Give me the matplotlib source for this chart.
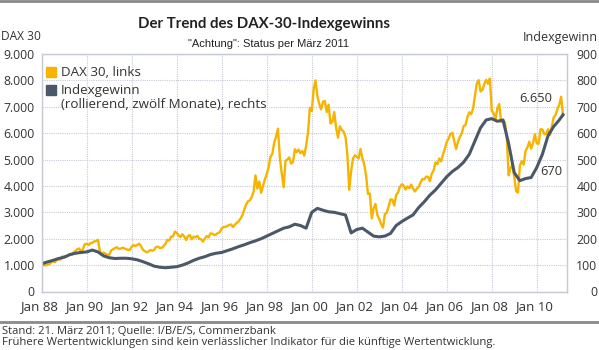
import numpy as np
import matplotlib
matplotlib.use("Agg")
import matplotlib.pyplot as plt
from matplotlib.lines import Line2D
from matplotlib.patches import Rectangle
from matplotlib.transforms import ScaledTranslation

# DAX 30 monthly, Jan 1988 .. Mar 2011 (left axis)
dax = [
    950, 1010, 985, 1020, 1030, 1100, 1150, 1110, 1190, 1220, 1210, 1330,
    1310, 1330, 1350, 1400, 1390, 1480, 1540, 1600, 1630, 1480, 1620, 1790,
    1810, 1760, 1830, 1840, 1900, 1910, 1960, 1540, 1390, 1480, 1430, 1400,
    1390, 1550, 1600, 1640, 1680, 1620, 1620, 1660, 1640, 1600, 1580, 1580,
    1700, 1760, 1720, 1770, 1810, 1710, 1580, 1530, 1480, 1520, 1570, 1545,
    1580, 1690, 1700, 1650, 1650, 1720, 1800, 1960, 1930, 2080, 2080, 2270,
    2220, 2130, 2060, 2170, 2090, 1950, 2100, 2140, 1980, 2080, 2050, 2110,
    2000, 1980, 1890, 2010, 2100, 2050, 2200, 2190, 2140, 2160, 2220, 2250,
    2400, 2440, 2450, 2480, 2520, 2540, 2440, 2530, 2600, 2660, 2760, 2890,
    3090, 3300, 3420, 3450, 3580, 3790, 4400, 3900, 4170, 3740, 4000, 4250,
    4440, 4710, 5100, 5220, 5650, 5880, 6170, 5060, 4480, 3950, 4950, 5000,
    5080, 4850, 4900, 5390, 5280, 5380, 5240, 5320, 5150, 5520, 6020, 6960,
    6840, 7640, 8000, 7410, 7110, 6900, 7190, 7220, 6800, 7080, 6370, 6430,
    6800, 6210, 5830, 6260, 6120, 6060, 5860, 5190, 3850, 4560, 5040, 5160,
    5110, 5040, 5400, 5040, 4820, 4380, 3700, 3710, 2770, 3150, 3320, 2890,
    2750, 2550, 2420, 2940, 2980, 3220, 3490, 3480, 3260, 3660, 3750, 3960,
    4060, 4020, 3860, 3980, 3920, 4050, 3900, 3790, 3890, 3960, 4130, 4260,
    4250, 4350, 4350, 4180, 4460, 4590, 4890, 4830, 5040, 4930, 5190, 5410,
    5670, 5800, 5970, 6010, 5690, 5400, 5680, 5860, 6000, 6270, 6310, 6600,
    6790, 6720, 6920, 7410, 7880, 8010, 7580, 7640, 7860, 8020, 7870, 8070,
    6850, 6750, 6530, 6950, 7100, 6420, 6480, 6420, 5830, 4400, 4670, 4810,
    4340, 3800, 3750, 4770, 4940, 4810, 5330, 5460, 5680, 5410, 5630, 5960,
    5610, 5600, 6150, 6140, 5960, 5970, 6150, 5930, 6230, 6600, 6690, 6910,
    7080, 7380, 6650,
]

# Indexgewinn, rolling 12 months, quarterly Q1 1988 .. Q1 2011, then Mar 2011 (right axis)
gewinn = [
    105, 112, 118, 125,
    130, 140, 145, 148,
    150, 157, 150, 135,
    128, 125, 126, 126,
    124, 120, 113, 105,
    96, 92, 90, 92,
    94, 100, 108, 118,
    126, 132, 140, 145,
    148, 155, 162, 170,
    177, 185, 192, 200,
    210, 220, 230, 240,
    245, 255, 250, 240,
    300, 315, 308, 302,
    300, 295, 290, 222,
    235, 240, 225, 210,
    207, 210, 220, 250,
    265, 278, 290, 318,
    340, 365, 385, 410,
    435, 455, 470, 490,
    520, 570, 620, 650,
    655, 645, 650, 560,
    450, 420, 428, 432,
    470, 520, 590, 625,
    650, 670,
]

jahre = list(range(1988, 2011, 2))
xlabels = ["Jan %02d" % (j % 100) for j in jahre]
left_ticks = list(range(0, 9001, 1000))
left_labels = ["0" if v == 0 else "{:,}".format(v).replace(",", ".") for v in left_ticks]
right_ticks = list(range(0, 901, 100))

dax_x = 1988 + np.arange(len(dax)) / 12.0
gewinn_x = np.append(1988 + np.arange(len(gewinn) - 1) / 4.0, 2011 + 2 / 12.0)

GOLD = "#f6b400"
SLATE = "#4a5868"
GRID = "#c5cad6"
TXT = "#333333"
FONT = "Open Sans"

W, H = 599, 350
fig = plt.figure(figsize=(W / 100, H / 100), dpi=100)
fig.patch.set_facecolor("white")

def fx(px):
    return px / W

def fy(py):
    return 1 - py / H

L, R, T, B = 41.7, 566.7, 54.0, 291.5
ax = fig.add_axes([fx(L), fy(B), fx(R - L), (B - T) / H])
ax2 = ax.twinx()

ax.plot(dax_x, dax, color=GOLD, lw=1.7, solid_joinstyle="round")
ax2.plot(gewinn_x, gewinn, color=SLATE, lw=2.2, solid_joinstyle="round")

ax.set_xlim(1988.0, 2011.33)
ax.set_ylim(0, 9000)
ax2.set_ylim(0, 900)

ax.set_xticks(jahre)
ax.set_xticklabels(xlabels, fontsize=9.5, family=FONT, color=TXT)
ax.set_yticks(left_ticks)
ax.set_yticklabels(left_labels, fontsize=8.8, family=FONT, color=TXT)
ax2.set_yticks(right_ticks)
ax2.set_yticklabels([str(v) for v in right_ticks], fontsize=8.8, family=FONT,
                    color=TXT, ha="right")

ax.tick_params(axis="both", length=0)
ax.tick_params(axis="y", pad=5)
ax.tick_params(axis="x", pad=6.5)
ax2.tick_params(axis="y", length=0, pad=22)
for lab in ax.get_xticklabels():
    lab.set_transform(lab.get_transform() + ScaledTranslation(-3 / 100, 0, fig.dpi_scale_trans))

ax.grid(True, color=GRID, lw=0.8, ls=(0, (1, 1)))
ax.set_axisbelow(True)
for a in (ax, ax2):
    for s in a.spines.values():
        s.set_color(GRID)
        s.set_linewidth(0.9)

# annotations for the last values
ax.text(2010.68, 7300, "6.650", fontsize=9.3, family=FONT, color=TXT, ha="right", va="center")
ax.text(2011.12, 4560, "670", fontsize=9.3, family=FONT, color=TXT, ha="right", va="center")

# legend drawn by hand
fig.add_artist(Rectangle((fx(46), fy(77)), fx(10), 10 / H, color=GOLD, transform=fig.transFigure))
fig.add_artist(Rectangle((fx(46), fy(95)), fx(10), 10 / H, color=SLATE, transform=fig.transFigure))
fig.text(fx(61), fy(72), "DAX 30, links", fontsize=9.6, family=FONT, color=TXT, va="center")
fig.text(fx(61), fy(90.5), "Indexgewinn", fontsize=9.6, family=FONT, color=TXT, va="center")
fig.text(fx(61), fy(104.5), "(rollierend, zwölf Monate), rechts", fontsize=9.6, family=FONT,
         color=TXT, va="center")

# titles
fig.text(fx(264), fy(24), "Der Trend des DAX-30-Indexgewinns", fontsize=10.8, family="Lato",
         weight="bold", color="#222222", ha="center", va="center")
fig.text(fx(268), fy(44), "\"Achtung\": Status per März 2011", fontsize=8.0,
         family="Liberation Sans", color="#222222", ha="center", va="center")
fig.text(fx(1), fy(37), "DAX 30", fontsize=8.6, family=FONT, color=TXT, ha="left", va="center")
fig.text(fx(598), fy(37), "Indexgewinn", fontsize=9.0, family=FONT, color=TXT, ha="right", va="center")

# separators and footer
fig.add_artist(Line2D([0, 1], [fy(1), fy(1)], color="#8a8a8a", lw=2, transform=fig.transFigure))
fig.add_artist(Line2D([0, 1], [fy(321.5), fy(321.5)], color="#8a8a8a", lw=2, transform=fig.transFigure))
fig.text(fx(2), fy(331), "Stand: 21. März 2011; Quelle: I/B/E/S, Commerzbank", fontsize=8.1,
         family=FONT, color=TXT, va="center")
fig.text(fx(2), fy(342.5), "Frühere Wertentwicklungen sind kein verlässlicher Indikator für die künftige Wertentwicklung.",
         fontsize=8.1, family=FONT, color=TXT, va="center")

fig.savefig("out.png", dpi=100)
